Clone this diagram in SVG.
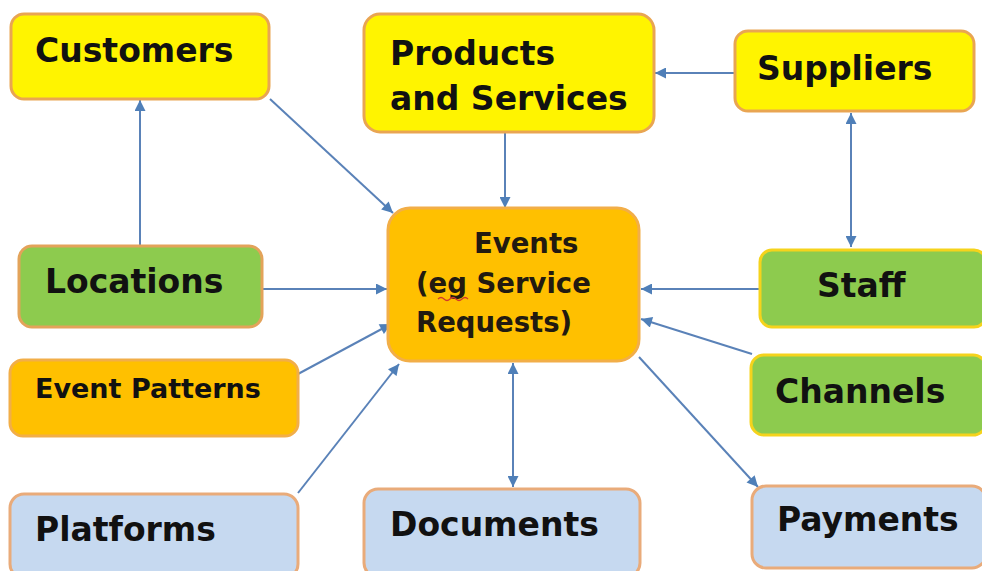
<svg xmlns="http://www.w3.org/2000/svg" width="982" height="571" viewBox="0 0 982 571">
<defs>
<marker id="ah" viewBox="0 0 10 10" refX="10" refY="5" markerWidth="12" markerHeight="11" markerUnits="userSpaceOnUse" orient="auto-start-reverse">
<path d="M0,0 L10,5 L0,10 z" fill="#4F7FB8"/>
</marker>
<style>
.box{stroke-width:3}
.yel{fill:#FFF400;stroke:#E9A552}
.org{fill:#FFC000;stroke:#F2AE48}
.grn{fill:#8DCB4E;stroke:#E3A35A}
.grn2{fill:#8DCB4E;stroke:#F5D31C}
.blu{fill:#C6D9F0;stroke:#E9AB7A}
.t{font-family:"DejaVu Sans",Verdana,sans-serif;font-weight:bold;fill:#111;font-size:33px}
.s{font-size:27.5px;fill:#221A10}
.c{fill:none;stroke:#5A82B8;stroke-width:2}
</style>
</defs>
<g id="connectors">
<line class="c" x1="140" y1="246" x2="140" y2="100" marker-end="url(#ah)"/>
<line class="c" x1="270" y1="99" x2="393" y2="213" marker-end="url(#ah)"/>
<line class="c" x1="505" y1="133" x2="505" y2="208" marker-end="url(#ah)"/>
<line class="c" x1="735" y1="73" x2="655" y2="73" marker-end="url(#ah)"/>
<line class="c" x1="851" y1="113" x2="851" y2="247" marker-start="url(#ah)" marker-end="url(#ah)"/>
<line class="c" x1="263" y1="289" x2="387" y2="289" marker-end="url(#ah)"/>
<line class="c" x1="760" y1="289" x2="641" y2="289" marker-end="url(#ah)"/>
<line class="c" x1="752" y1="354" x2="641" y2="319" marker-end="url(#ah)"/>
<line class="c" x1="298" y1="374" x2="391" y2="324" marker-end="url(#ah)"/>
<line class="c" x1="298" y1="493" x2="399" y2="364" marker-end="url(#ah)"/>
<line class="c" x1="513" y1="363" x2="513" y2="487" marker-start="url(#ah)" marker-end="url(#ah)"/>
<line class="c" x1="639" y1="357" x2="758" y2="487" marker-end="url(#ah)"/>
</g>
<g id="customers">
<rect class="box yel" x="11" y="14" width="258" height="85" rx="13"/>
<text class="t" x="35" y="62">Customers</text>
</g>
<g id="products">
<rect class="box yel" x="364" y="14" width="290" height="118" rx="16"/>
<text class="t" x="390" y="65">Products</text>
<text class="t" x="390" y="110">and Services</text>
</g>
<g id="suppliers">
<rect class="box yel" x="735" y="31" width="239" height="80" rx="13"/>
<text class="t" x="757" y="80">Suppliers</text>
</g>
<g id="events">
<rect class="box org" x="388" y="208" width="251" height="153" rx="22"/>
<text class="t s" x="474" y="253">Events</text>
<text class="t s" x="416" y="293">(eg Service</text>
<text class="t s" x="416" y="332">Requests)</text>
<path d="M438,299 q3,-3 6,0 t6,0 t6,0 t6,0 t6,0" fill="none" stroke="#D23A2A" stroke-width="1.2"/>
</g>
<g id="locations">
<rect class="box grn" x="19" y="246" width="243" height="81" rx="13"/>
<text class="t" x="45" y="293">Locations</text>
</g>
<g id="staff">
<rect class="box grn2" x="760" y="250" width="226" height="77" rx="12"/>
<text class="t" x="817" y="297">Staff</text>
</g>
<g id="event-patterns">
<rect class="box org" x="10" y="360" width="288" height="76" rx="13"/>
<text class="t" x="35" y="398" style="font-size:27px">Event Patterns</text>
</g>
<g id="channels">
<rect class="box grn2" x="751" y="355" width="235" height="80" rx="13"/>
<text class="t" x="775" y="403">Channels</text>
</g>
<g id="platforms">
<rect class="box blu" x="10" y="494" width="288" height="84" rx="14"/>
<text class="t" x="35" y="541">Platforms</text>
</g>
<g id="documents">
<rect class="box blu" x="364" y="489" width="276" height="88" rx="14"/>
<text class="t" x="390" y="536">Documents</text>
</g>
<g id="payments">
<rect class="box blu" x="752" y="486" width="234" height="82" rx="14"/>
<text class="t" x="777" y="531">Payments</text>
</g>
</svg>
